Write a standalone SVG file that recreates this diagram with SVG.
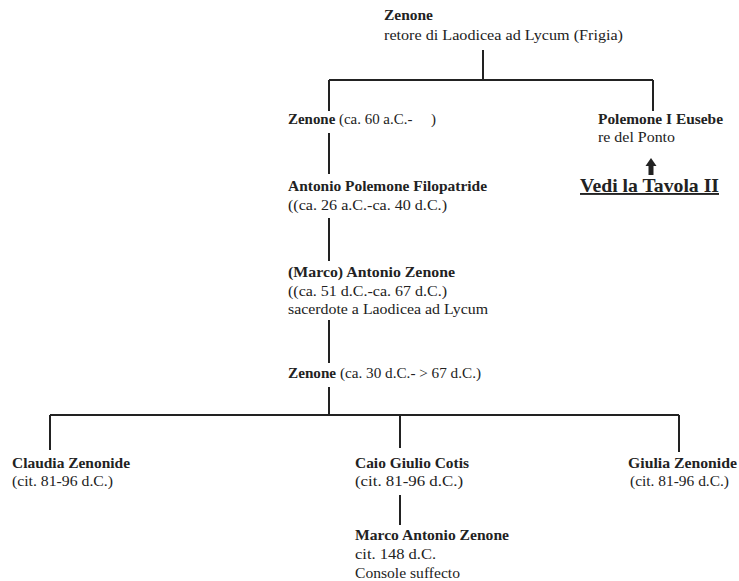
<svg xmlns="http://www.w3.org/2000/svg" width="739" height="581" viewBox="0 0 739 581">
<style>
text{font-family:"Liberation Serif","Times New Roman",serif;font-size:15px;fill:#222}
.b{font-weight:bold}
.c{stroke:#222;stroke-width:2;fill:none}
.big{font-size:19px;font-weight:bold;text-decoration:underline}
</style>
<rect width="739" height="581" fill="#fff"/>
<g id="connectors">
<path class="c" d="M483 50V80M329 80H653M329 80V111M653 80V111"/>
<path class="c" d="M329 133V174M329 218V261M329 320V363M329 387V415"/>
<path class="c" d="M50 415H679M50 415V450M400 415V448M679 415V452M400 495V525"/>
<path d="M651 158L656.5 166H653.5V175H648.5V166H645.5Z" fill="#222"/>
</g>
<g id="n_zenone_top"><text x="384" y="20" class="b" textLength="49" lengthAdjust="spacingAndGlyphs">Zenone</text><text x="384" y="40" textLength="239" lengthAdjust="spacingAndGlyphs">retore di Laodicea ad Lycum (Frigia)</text></g>
<g id="n_zenone60"><text x="288" y="124" textLength="148" lengthAdjust="spacingAndGlyphs"><tspan class="b">Zenone</tspan> (ca. 60 a.C.-&#160;&#160;&#160;&#160; )</text></g>
<g id="n_polemone"><text x="598" y="124" class="b" textLength="125" lengthAdjust="spacingAndGlyphs">Polemone I Eusebe</text><text x="598" y="142" textLength="77" lengthAdjust="spacingAndGlyphs">re del Ponto</text></g>
<g id="n_tavola"><text x="580" y="192" class="big" textLength="139" lengthAdjust="spacingAndGlyphs">Vedi la Tavola II</text></g>
<g id="n_antonio"><text x="288" y="191" class="b" textLength="199" lengthAdjust="spacingAndGlyphs">Antonio Polemone Filopatride</text><text x="288" y="210" textLength="159" lengthAdjust="spacingAndGlyphs">((ca. 26 a.C.-ca. 40 d.C.)</text></g>
<g id="n_marco"><text x="288" y="277" class="b" textLength="167" lengthAdjust="spacingAndGlyphs">(Marco) Antonio Zenone</text><text x="288" y="296" textLength="159" lengthAdjust="spacingAndGlyphs">((ca. 51 d.C.-ca. 67 d.C.)</text><text x="288" y="314" textLength="200" lengthAdjust="spacingAndGlyphs">sacerdote a Laodicea ad Lycum</text></g>
<g id="n_zenone30"><text x="288" y="378" textLength="193" lengthAdjust="spacingAndGlyphs"><tspan class="b">Zenone</tspan> (ca. 30 d.C.- &gt; 67 d.C.)</text></g>
<g id="n_claudia"><text x="12" y="468" class="b" textLength="118" lengthAdjust="spacingAndGlyphs">Claudia Zenonide</text><text x="12" y="486" textLength="101" lengthAdjust="spacingAndGlyphs">(cit. 81-96 d.C.)</text></g>
<g id="n_caio"><text x="355" y="468" class="b" textLength="114" lengthAdjust="spacingAndGlyphs">Caio Giulio Cotis</text><text x="355" y="486" textLength="108" lengthAdjust="spacingAndGlyphs">(cit. 81-96 d.C.)</text></g>
<g id="n_giulia"><text x="628" y="468" class="b" textLength="109" lengthAdjust="spacingAndGlyphs">Giulia Zenonide</text><text x="630" y="486" textLength="99" lengthAdjust="spacingAndGlyphs">(cit. 81-96 d.C.)</text></g>
<g id="n_marcoant"><text x="355" y="540" class="b" textLength="154" lengthAdjust="spacingAndGlyphs">Marco Antonio Zenone</text><text x="355" y="559" textLength="81" lengthAdjust="spacingAndGlyphs">cit. 148 d.C.</text><text x="355" y="578" textLength="105" lengthAdjust="spacingAndGlyphs">Console suffecto</text></g>
</svg>
